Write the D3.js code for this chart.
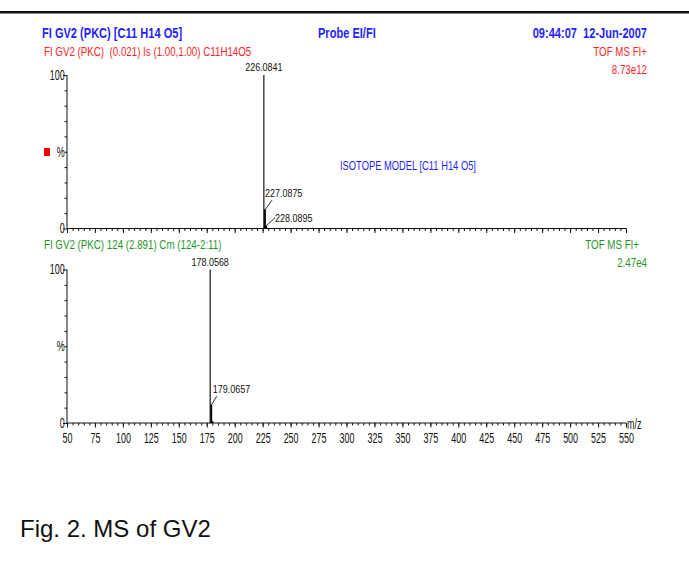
<!DOCTYPE html>
<html>
<head>
<meta charset="utf-8">
<script src="https://cdn.jsdelivr.net/npm/d3@7.9.0/dist/d3.min.js"></script>
<style>
  body { margin: 0; background: #fff; }
  svg { display: block; }
  svg text { font-family: 'Liberation Sans', Arial, sans-serif; white-space: pre; }
</style>
</head>
<body>
<svg id="chart" width="689" height="563"></svg>
<script>
// spectrum peaks (m/z, relative %)
const topMz = [226.0841, 227.0875, 228.0895];
const topPct = [100, 12.6, 1.9];
const bottomMz = [178.0568, 179.0657, 180.06];
const bottomPct = [100, 12.2, 1.2];

const xTicksMajor = d3.range(50, 551, 25);
const xTicksMinor = d3.range(50, 551, 5);
const yTicks = d3.range(0, 101, 10);

const BLUE = '#1f1fff';
const RED = '#ff2424';
const GREEN = '#1f961f';
const NARROW = 0.75; // fake "Arial Narrow" by squeezing Liberation Sans

const svg = d3.select('#chart');

const x = d3.scaleLinear().domain([50, 550]).range([67, 626]);
const yTop = d3.scaleLinear().domain([0, 100]).range([228.5, 75]);
const yBottom = d3.scaleLinear().domain([0, 100]).range([423, 269.5]);

// heavy rule across the top
svg.append('rect').attr('x', 0).attr('y', 11).attr('width', 689).attr('height', 2.5).attr('fill', '#111');

function text(parent, xp, yp, str, color, opts = {}) {
  return parent.append('text')
    .attr('transform', `translate(${xp},${yp}) scale(${opts.sx || NARROW},1)`)
    .attr('fill', color)
    .attr('font-size', opts.size || 13)
    .attr('font-weight', opts.bold ? 'bold' : 'normal')
    .attr('text-anchor', opts.anchor || 'start')
    .text(str);
}

// header texts
text(svg, 42, 38, 'FI GV2 (PKC) [C11 H14 O5]', BLUE, { bold: true, size: 14, sx: 0.79 });
text(svg, 318, 38, 'Probe EI/FI', BLUE, { bold: true, size: 14, sx: 0.79 });
text(svg, 647, 38, '09:44:07  12-Jun-2007', BLUE, { bold: true, size: 14, sx: 0.79, anchor: 'end' });
text(svg, 44, 56, 'FI GV2 (PKC)  (0.021) Is (1.00,1.00) C11H14O5', RED);
text(svg, 647, 56, 'TOF MS FI+', RED, { anchor: 'end' });
text(svg, 647, 74, '8.73e12', RED, { anchor: 'end' });
text(svg, 340, 170, 'ISOTOPE MODEL [C11 H14 O5]', BLUE, { size: 12, sx: 0.78 });

text(svg, 44, 249, 'FI GV2 (PKC) 124 (2.891) Cm (124-2:11)', GREEN);
text(svg, 639, 249, 'TOF MS FI+', GREEN, { anchor: 'end' });
text(svg, 647, 267, '2.47e4', GREEN, { anchor: 'end' });

// red marker next to the top % label
svg.append('rect').attr('x', 44).attr('y', 148).attr('width', 6).attr('height', 8).attr('fill', '#ff0000');

function drawPanel(y, mz, pct, showLabels, leaders) {
  const g = svg.append('g');

  // y axis
  const yAxis = g.append('g')
    .attr('transform', `translate(${x(50)},0)`)
    .call(d3.axisLeft(y).tickValues(yTicks).tickSize(2.5).tickPadding(1)
      .tickFormat((d) => (d === 100 ? '100' : d === 0 ? '0' : d === 50 ? '%' : '')));
  yAxis.select('.domain').attr('d', `M0,${y(0)}V${y(100)}`);
  yAxis.selectAll('.tick')
    .filter((d) => d === 0 || d === 100)
    .select('line').attr('x2', -4);

  // x axis: minor + major ticks
  const xMinor = g.append('g')
    .attr('transform', `translate(0,${y(0)})`)
    .call(d3.axisBottom(x).tickValues(xTicksMinor).tickSize(2.5).tickFormat(''));
  xMinor.select('.domain').attr('d', `M${x(50)},0H${x(550)}`);
  const xMajor = g.append('g')
    .attr('transform', `translate(0,${y(0)})`)
    .call(d3.axisBottom(x).tickValues(xTicksMajor).tickSize(4.5).tickPadding(6)
      .tickFormat(showLabels ? d3.format('d') : ''));
  xMajor.select('.domain').remove();

  g.selectAll('.tick text')
    .attr('transform', 'scale(0.64,1)')
    .attr('font-family', null)
    .attr('font-size', 14)
    .attr('fill', '#111');
  g.selectAll('.domain, .tick line').attr('stroke', '#111');

  // peaks
  g.selectAll('line.peak')
    .data(mz.map((m, i) => ({ m, p: pct[i] })))
    .join('line')
    .attr('class', 'peak')
    .attr('x1', (d) => x(d.m))
    .attr('x2', (d) => x(d.m))
    .attr('y1', y(0))
    .attr('y2', (d) => y(d.p))
    .attr('stroke', '#000')
    .attr('stroke-width', (d, i) => (i === 0 ? 1.1 : 1.8));

  // main peak label
  text(g, x(mz[0]), y(pct[0]) - 4, mz[0].toFixed(4), '#111', { size: 11.5, sx: 0.78, anchor: 'middle' });

  // leader labels for the isotope peaks
  leaders.forEach((l) => {
    const px = x(mz[l.i]);
    const py = y(pct[l.i]);
    g.append('line')
      .attr('x1', px + 0.5).attr('y1', py)
      .attr('x2', px + l.dx).attr('y2', py - l.dy)
      .attr('stroke', '#111').attr('stroke-width', 0.9);
    const ty = l.side ? py - l.dy + 4.5 : py - l.dy - 3;
    text(g, px + l.dx - (l.shift || 0), ty, mz[l.i].toFixed(4), '#111', { size: 11.5, sx: 0.78 });
  });
}

drawPanel(yTop, topMz, topPct, false, [
  { i: 1, dx: 7, dy: 9, shift: 7 },
  { i: 2, dx: 9, dy: 8, side: true }
]);
drawPanel(yBottom, bottomMz, bottomPct, true, [
  { i: 1, dx: 5.5, dy: 8, shift: 4 }
]);

// m/z axis title
text(svg, 627, 429, 'm/z', '#111', { size: 14, sx: 0.64 });

// caption
svg.append('text')
  .attr('x', 20).attr('y', 537)
  .attr('font-size', 24)
  .attr('fill', '#111')
  .text('Fig. 2. MS of GV2');
</script>
</body>
</html>
